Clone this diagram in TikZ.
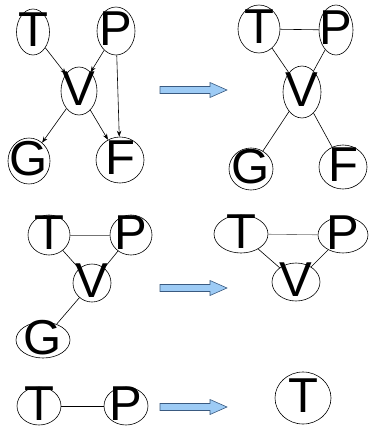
\documentclass[tikz,border=0pt]{standalone}
\usepackage{fontspec}
\setmainfont{Liberation Sans}
\usetikzlibrary{shapes.geometric,arrows.meta}
\definecolor{arrowfill}{HTML}{9DCBF5}
\definecolor{arrowline}{HTML}{3A5A80}
\tikzset{
  vx/.style={ellipse, draw, line width=0.6pt, inner sep=0pt},
  ltr/.style={inner sep=0pt, yshift=2pt, font=\fontsize{49}{49}\selectfont},
  ed/.style={line width=0.6pt},
  dir/.style={ed, -{Stealth[length=6pt,width=4.5pt]}},
  soft/.style={ed, draw=black!55},
  blk/.style={draw=arrowline, fill=arrowfill, line width=0.6pt, line join=miter},
}
\newcommand{\blockarrow}[1]{%
  \begin{scope}[shift={(0,#1)}]
    \draw[blk] (160,-3.5) -- (210,-3.5) -- (210,-7.5) -- (227,0)
      -- (210,7.5) -- (210,3.5) -- (160,3.5) -- cycle;
  \end{scope}}
\begin{document}
\begin{tikzpicture}[x=1pt, y=-1pt]
\useasboundingbox (0,0) rectangle (369,428);

% directed graph, top left
\node[vx, minimum width=33, minimum height=46, label={[ltr]center:T}] (aT) at (33,32) {};
\node[vx, minimum width=38, minimum height=48, label={[ltr]center:P}] (aP) at (116,31) {};
\node[vx, minimum width=36, minimum height=48, label={[ltr]center:V}] (aV) at (79,91) {};
\node[vx, minimum width=42, minimum height=46, label={[ltr]center:G}] (aG) at (29,161) {};
\node[vx, minimum width=48, minimum height=46, label={[ltr]center:F}] (aF) at (120,160) {};
\draw[dir] (aT) -- (aV);
\draw[dir] (aP) -- (aV);
\draw[dir] (aP) -- (aF);
\draw[dir] (aV) -- (aG);
\draw[dir] (aV) -- (aF);

% moral graph, top right
\node[vx, minimum width=42, minimum height=48, label={[ltr]center:T}] (bT) at (259,29) {};
\node[vx, minimum width=34, minimum height=50, label={[ltr]center:P}] (bP) at (336,30) {};
\node[vx, minimum width=38, minimum height=52, label={[ltr]center:V}] (bV) at (302,92) {};
\node[vx, minimum width=44, minimum height=42, label={[ltr]center:G}] (bG) at (251,169) {};
\node[vx, minimum width=48, minimum height=44, label={[ltr]center:F}] (bF) at (343,167) {};
\draw[ed] (bT) -- (bP);
\draw[ed] (bT) -- (bV);
\draw[ed] (bP) -- (bV);
\draw[ed] (bV) -- (bG);
\draw[ed] (bV) -- (bF);

% after removing F
\node[vx, minimum width=42, minimum height=40, label={[ltr]center:T}] (cT) at (49,235) {};
\node[vx, minimum width=42, minimum height=40, label={[ltr]center:P}] (cP) at (131,235) {};
\node[vx, minimum width=38, minimum height=38, label={[ltr]center:V}] (cV) at (92,283) {};
\node[vx, minimum width=54, minimum height=36, label={[ltr]center:G}] (cG) at (43,340) {};
\draw[soft] (cT) -- (cP);
\draw[ed] (cT) -- (cV);
\draw[ed] (cP) -- (cV);
\draw[ed] (cV) -- (cG);

% after removing G
\node[vx, minimum width=54, minimum height=38, label={[ltr]center:T}] (dT) at (241,234) {};
\node[vx, minimum width=50, minimum height=36, label={[ltr]center:P}] (dP) at (343,235) {};
\node[vx, minimum width=48, minimum height=38, label={[ltr]center:V}] (dV) at (296,282) {};
\draw[soft] (dT) -- (dP);
\draw[ed] (dT) -- (dV);
\draw[ed] (dP) -- (dV);

% last step
\node[vx, minimum width=44, minimum height=38, label={[ltr]center:T}] (eT) at (39,406) {};
\node[vx, minimum width=44, minimum height=38, label={[ltr]center:P}] (eP) at (126,406) {};
\draw[ed] (eT) -- (eP);
\node[vx, minimum width=56, minimum height=52, label={[ltr]center:T}] (fT) at (303,398) {};

% block arrows between the steps
\blockarrow{90}
\blockarrow{288}
\blockarrow{407}
\end{tikzpicture}
\end{document}
